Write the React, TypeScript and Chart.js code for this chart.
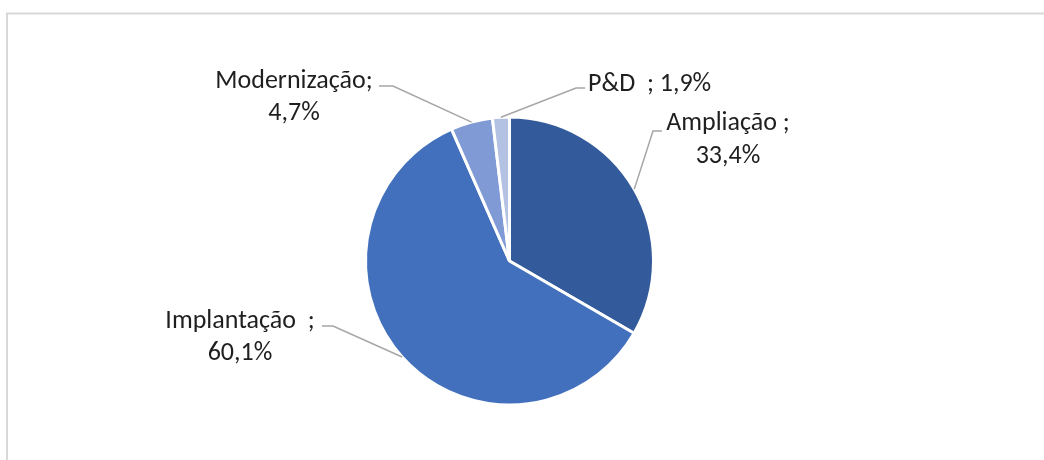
import React, { useEffect, useRef } from "react";
import { Chart, registerables } from "chart.js";

Chart.register(...registerables);

const categories = ["Ampliação", "Implantação", "Modernização", "P&D"];
const values = [33.4, 60.1, 4.7, 1.9];
const labelNames = ["Ampliação ;", "Implantação  ;", "Modernização;", "P&D  ;"];
const colors = ["#335A9A", "#4270BD", "#7F9AD5", "#B3C1E2"];

// label layout (style): elbow start x,y ; elbow end x ; text centre x ; baselines ; single line?
const labelLayout = [
  { ex: 653, ey: 131, hx: 662, tx: 728, by: [130, 163], single: false },
  { ex: 333, ey: 326, hx: 322, tx: 240, by: [328, 360], single: false },
  { ex: 393, ey: 86, hx: 379, tx: 294, by: [88, 120], single: false },
  { ex: 576, ey: 88, hx: 585, tx: 588, by: [91], single: true },
];

const fmt = (v: number) => v.toFixed(1).replace(".", ",") + "%";

const FONT = "26px Carlito, Calibri, Lato, sans-serif";

const labelPlugin = {
  id: "leaderLabels",
  beforeDraw(chart: any) {
    const ctx = chart.ctx;
    ctx.save();
    ctx.strokeStyle = "#D9D9D9";
    ctx.lineWidth = 2;
    ctx.beginPath();
    ctx.moveTo(7, 460);
    ctx.lineTo(7, 13.5);
    ctx.lineTo(1044, 13.5);
    ctx.stroke();
    ctx.restore();
  },
  afterDraw(chart: any) {
    const ctx = chart.ctx;
    const meta = chart.getDatasetMeta(0);
    ctx.save();
    meta.data.forEach((arc: any, i: number) => {
      const { x, y, startAngle, endAngle, outerRadius } = arc.getProps(
        ["x", "y", "startAngle", "endAngle", "outerRadius"],
        true
      );
      const mid = (startAngle + endAngle) / 2;
      const px = x + Math.cos(mid) * outerRadius;
      const py = y + Math.sin(mid) * outerRadius;
      const L = labelLayout[i];
      ctx.strokeStyle = "#A6A6A6";
      ctx.lineWidth = 1.5;
      ctx.beginPath();
      ctx.moveTo(px, py);
      ctx.lineTo(L.ex, L.ey);
      ctx.lineTo(L.hx, L.ey);
      ctx.stroke();
      ctx.fillStyle = "#1F1F1F";
      ctx.font = FONT;
      ctx.textBaseline = "alphabetic";
      const value = fmt(values[i]);
      if (L.single) {
        ctx.textAlign = "left";
        ctx.fillText(labelNames[i] + " " + value, L.tx, L.by[0]);
      } else {
        ctx.textAlign = "center";
        ctx.fillText(labelNames[i], L.tx, L.by[0]);
        ctx.fillText(value, L.tx, L.by[1]);
      }
    });
    ctx.restore();
  },
};

export default function App() {
  const ref = useRef<HTMLCanvasElement>(null);
  useEffect(() => {
    if (!ref.current) return;
    const chart = new Chart(ref.current, {
      type: "pie",
      data: {
        labels: categories,
        datasets: [
          {
            data: values,
            backgroundColor: colors,
            borderColor: "#FFFFFF",
            borderWidth: 3,
          },
        ],
      },
      options: {
        animation: false,
        responsive: false,
        radius: 144,
        layout: { padding: { left: 0, right: 25, top: 62, bottom: 0 } },
        plugins: { legend: { display: false }, tooltip: { enabled: false } },
      } as any,
      plugins: [labelPlugin],
    });
    return () => chart.destroy();
  }, []);
  return (
    <canvas
      ref={ref}
      width={1044}
      height={460}
      style={{ position: "fixed", left: 0, top: 0, width: 1044, height: 460 }}
    />
  );
}
